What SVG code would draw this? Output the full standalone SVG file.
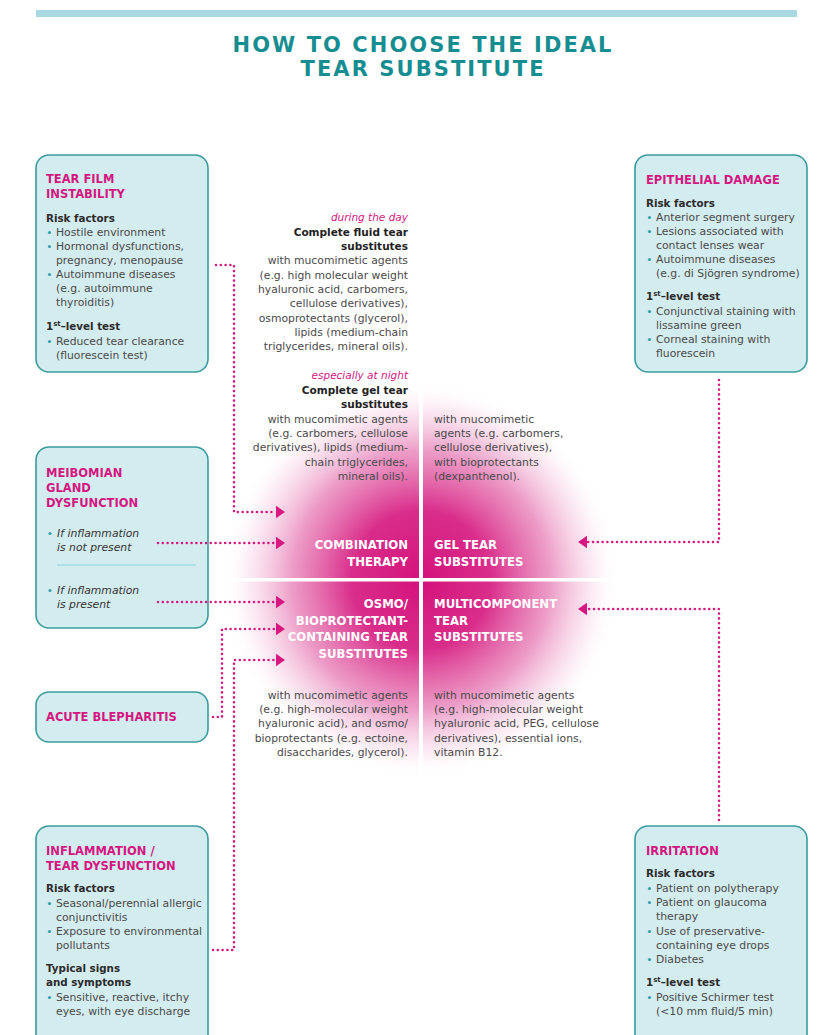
<svg xmlns="http://www.w3.org/2000/svg" width="820" height="1035" viewBox="0 0 820 1035">
<style>
text{font-family:'DejaVu Sans','Liberation Sans',sans-serif}
.title{font-size:21px;font-weight:bold;fill:#168d91;text-anchor:middle}
.box{fill:#d3ecf0;stroke:#3a9c9f;stroke-width:1.6}
.bt{font-size:11.5px;font-weight:bold;fill:#d4167f}
.h{font-size:10.3px;font-weight:bold;fill:#2b2b2b}
.t{font-size:10.8px;fill:#4a4a4a}
.it{font-size:10.8px;font-style:italic;fill:#333}
.dot{fill:#3aa0a8}
.c{font-size:10.8px;fill:#4a4a4a}
.r{text-anchor:end}
.pk{font-size:10.5px;font-style:italic;fill:#d4167f}
.cb{font-size:10.5px;font-weight:bold;fill:#222}
.lab{font-size:11.7px;font-weight:bold;fill:#ffffff}
.conn{fill:none;stroke:#d6187f;stroke-width:2.6;stroke-dasharray:0 4.8;stroke-linecap:round}
.sup{font-size:7px}
</style>
<defs>
<radialGradient id="pink" gradientUnits="userSpaceOnUse" cx="421" cy="580" r="198">
<stop offset="0" stop-color="#d4127c" stop-opacity="1"/>
<stop offset="0.35" stop-color="#d72284" stop-opacity="0.95"/>
<stop offset="0.65" stop-color="#dd4a98" stop-opacity="0.55"/>
<stop offset="0.88" stop-color="#ea8fbf" stop-opacity="0.15"/>
<stop offset="1" stop-color="#ffffff" stop-opacity="0"/>
</radialGradient>
<marker id="ah" viewBox="0 0 10 14" refX="0" refY="7" markerWidth="9" markerHeight="13" markerUnits="userSpaceOnUse" orient="auto">
<path d="M0,0 L10,7 L0,14 Z" fill="#d6187f"/>
</marker>
</defs>
<rect x="0" y="0" width="820" height="1035" fill="#ffffff"/>
<rect x="36" y="10" width="761" height="7" fill="#a8d8e2"/>
<text class="title" x="422" y="52" textLength="379">HOW TO CHOOSE THE IDEAL</text>
<text class="title" x="422" y="76" textLength="243">TEAR SUBSTITUTE</text>

<g id="center">
<rect x="222" y="382" width="398" height="396" fill="url(#pink)"/>
<rect x="419" y="392" width="4" height="386" fill="#ffffff"/>
<rect x="222" y="578" width="398" height="3.5" fill="#ffffff"/>
<text class="pk r" x="408" y="221">during the day</text>
<text class="cb r" x="408" y="236">Complete fluid tear</text>
<text class="cb r" x="408" y="250">substitutes</text>
<text class="c r" x="408" y="264">with mucomimetic agents</text>
<text class="c r" x="408" y="279">(e.g. high  molecular weight</text>
<text class="c r" x="408" y="293">hyaluronic acid, carbomers,</text>
<text class="c r" x="408" y="307">cellulose derivatives),</text>
<text class="c r" x="408" y="322">osmoprotectants (glycerol),</text>
<text class="c r" x="408" y="336">lipids (medium-chain</text>
<text class="c r" x="408" y="350">triglycerides, mineral oils).</text>
<text class="pk r" x="408" y="379">especially at night</text>
<text class="cb r" x="408" y="394">Complete gel tear</text>
<text class="cb r" x="408" y="408">substitutes</text>
<text class="c r" x="408" y="423">with mucomimetic agents</text>
<text class="c r" x="408" y="437">(e.g. carbomers, cellulose</text>
<text class="c r" x="408" y="451">derivatives), lipids (medium-</text>
<text class="c r" x="408" y="466">chain triglycerides,</text>
<text class="c r" x="408" y="480">mineral oils).</text>
<text class="c" x="434" y="423">with mucomimetic</text>
<text class="c" x="434" y="437">agents (e.g. carbomers,</text>
<text class="c" x="434" y="451">cellulose derivatives),</text>
<text class="c" x="434" y="466">with bioprotectants</text>
<text class="c" x="434" y="480">(dexpanthenol).</text>
<text class="lab r" x="408" y="549">COMBINATION</text>
<text class="lab r" x="408" y="566">THERAPY</text>
<text class="lab" x="434" y="549">GEL TEAR</text>
<text class="lab" x="434" y="566">SUBSTITUTES</text>
<text class="lab r" x="408" y="608">OSMO/</text>
<text class="lab r" x="408" y="625">BIOPROTECTANT-</text>
<text class="lab r" x="408" y="641">CONTAINING TEAR</text>
<text class="lab r" x="408" y="658">SUBSTITUTES</text>
<text class="lab" x="434" y="608">MULTICOMPONENT</text>
<text class="lab" x="434" y="625">TEAR</text>
<text class="lab" x="434" y="641">SUBSTITUTES</text>
<text class="c r" x="408" y="699">with mucomimetic agents</text>
<text class="c r" x="408" y="713">(e.g. high-molecular weight</text>
<text class="c r" x="408" y="727">hyaluronic acid), and osmo/</text>
<text class="c r" x="408" y="742">bioprotectants (e.g. ectoine,</text>
<text class="c r" x="408" y="756">disaccharides, glycerol).</text>
<text class="c" x="434" y="699">with mucomimetic agents</text>
<text class="c" x="434" y="713">(e.g. high-molecular weight</text>
<text class="c" x="434" y="727">hyaluronic acid, PEG, cellulose</text>
<text class="c" x="434" y="742">derivatives), essential ions,</text>
<text class="c" x="434" y="756">vitamin B12.</text>
</g>

<g id="tear-film-instability">
<rect class="box" x="36" y="155" width="172" height="217" rx="13"/>
<text class="bt" x="46" y="183">TEAR FILM</text>
<text class="bt" x="46" y="198">INSTABILITY</text>
<text class="h" x="46" y="222">Risk factors</text>
<circle class="dot" cx="49.5" cy="232.5" r="1.6"/>
<text class="t" x="56" y="236">Hostile environment</text>
<circle class="dot" cx="49.5" cy="246.5" r="1.6"/>
<text class="t" x="56" y="250">Hormonal dysfunctions,</text>
<text class="t" x="56" y="264">pregnancy, menopause</text>
<circle class="dot" cx="49.5" cy="274.5" r="1.6"/>
<text class="t" x="56" y="278">Autoimmune diseases</text>
<text class="t" x="56" y="292">(e.g. autoimmune</text>
<text class="t" x="56" y="306">thyroiditis)</text>
<text class="h" x="46" y="330">1<tspan class="sup" dy="-4">st</tspan><tspan dy="4">–level test</tspan></text>
<circle class="dot" cx="49.5" cy="341.5" r="1.6"/>
<text class="t" x="56" y="345">Reduced tear clearance</text>
<text class="t" x="56" y="359">(fluorescein test)</text>
</g>

<g id="epithelial-damage">
<rect class="box" x="635" y="155" width="172" height="217" rx="13"/>
<text class="bt" x="646" y="184">EPITHELIAL DAMAGE</text>
<text class="h" x="646" y="207">Risk factors</text>
<circle class="dot" cx="649.5" cy="217.5" r="1.6"/>
<text class="t" x="656" y="221">Anterior segment surgery</text>
<circle class="dot" cx="649.5" cy="231.5" r="1.6"/>
<text class="t" x="656" y="235">Lesions associated with</text>
<text class="t" x="656" y="249">contact lenses wear</text>
<circle class="dot" cx="649.5" cy="259.5" r="1.6"/>
<text class="t" x="656" y="263">Autoimmune diseases</text>
<text class="t" x="656" y="277">(e.g. di Sjögren syndrome)</text>
<text class="h" x="646" y="300">1<tspan class="sup" dy="-4">st</tspan><tspan dy="4">–level test</tspan></text>
<circle class="dot" cx="649.5" cy="311.5" r="1.6"/>
<text class="t" x="656" y="315">Conjunctival staining with</text>
<text class="t" x="656" y="329">lissamine green</text>
<circle class="dot" cx="649.5" cy="339.5" r="1.6"/>
<text class="t" x="656" y="343">Corneal staining with</text>
<text class="t" x="656" y="357">fluorescein</text>
</g>

<g id="meibomian-gland-dysfunction">
<rect class="box" x="36" y="447" width="172" height="181" rx="13"/>
<text class="bt" x="46" y="477">MEIBOMIAN</text>
<text class="bt" x="46" y="492">GLAND</text>
<text class="bt" x="46" y="507">DYSFUNCTION</text>
<circle class="dot" cx="50" cy="533.5" r="1.6"/>
<text class="it" x="57" y="537">If inflammation</text>
<text class="it" x="57" y="551">is not present</text>
<line x1="57" y1="565" x2="196" y2="565" stroke="#8ccfdc" stroke-width="1.2"/>
<circle class="dot" cx="50" cy="590.5" r="1.6"/>
<text class="it" x="57" y="594">If inflammation</text>
<text class="it" x="57" y="608">is present</text>
</g>

<g id="acute-blepharitis">
<rect class="box" x="36" y="692" width="172" height="50" rx="13"/>
<text class="bt" x="46" y="721">ACUTE BLEPHARITIS</text>
</g>

<g id="inflammation-tear-dysfunction">
<rect class="box" x="36" y="826" width="172" height="225" rx="13"/>
<text class="bt" x="46" y="855">INFLAMMATION /</text>
<text class="bt" x="46" y="870">TEAR DYSFUNCTION</text>
<text class="h" x="46" y="892">Risk factors</text>
<circle class="dot" cx="49.5" cy="903.5" r="1.6"/>
<text class="t" x="56" y="907">Seasonal/perennial allergic</text>
<text class="t" x="56" y="921">conjunctivitis</text>
<circle class="dot" cx="49.5" cy="931.5" r="1.6"/>
<text class="t" x="56" y="935">Exposure to environmental</text>
<text class="t" x="56" y="949">pollutants</text>
<text class="h" x="46" y="972">Typical signs</text>
<text class="h" x="46" y="986">and symptoms</text>
<circle class="dot" cx="49.5" cy="997.5" r="1.6"/>
<text class="t" x="56" y="1001">Sensitive, reactive, itchy</text>
<text class="t" x="56" y="1015">eyes, with eye discharge</text>
</g>

<g id="irritation">
<rect class="box" x="635" y="826" width="172" height="225" rx="13"/>
<text class="bt" x="646" y="855">IRRITATION</text>
<text class="h" x="646" y="877">Risk factors</text>
<circle class="dot" cx="649.5" cy="888.5" r="1.6"/>
<text class="t" x="656" y="892">Patient on polytherapy</text>
<circle class="dot" cx="649.5" cy="902.5" r="1.6"/>
<text class="t" x="656" y="906">Patient on glaucoma</text>
<text class="t" x="656" y="920">therapy</text>
<circle class="dot" cx="649.5" cy="931.5" r="1.6"/>
<text class="t" x="656" y="935">Use of preservative-</text>
<text class="t" x="656" y="949">containing eye drops</text>
<circle class="dot" cx="649.5" cy="959.5" r="1.6"/>
<text class="t" x="656" y="963">Diabetes</text>
<text class="h" x="646" y="986">1<tspan class="sup" dy="-4">st</tspan><tspan dy="4">–level test</tspan></text>
<circle class="dot" cx="649.5" cy="997.5" r="1.6"/>
<text class="t" x="656" y="1001">Positive Schirmer test</text>
<text class="t" x="656" y="1015">(&lt;10 mm fluid/5 min)</text>
</g>

<g id="connectors">
<path class="conn" d="M216,265 H234 V512 H276" marker-end="url(#ah)"/>
<path class="conn" d="M158,543 H276" marker-end="url(#ah)"/>
<path class="conn" d="M158,602 H276" marker-end="url(#ah)"/>
<path class="conn" d="M213,717 H222 V629 H276" marker-end="url(#ah)"/>
<path class="conn" d="M213,950 H234 V660 H276" marker-end="url(#ah)"/>
<path class="conn" d="M719,380 V542 H587" marker-end="url(#ah)"/>
<path class="conn" d="M719,820 V609 H587" marker-end="url(#ah)"/>
</g>
</svg>
